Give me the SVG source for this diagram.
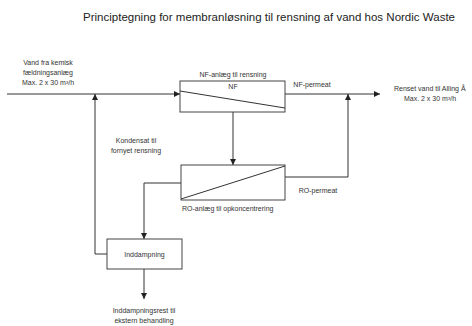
<svg xmlns="http://www.w3.org/2000/svg" width="472" height="326" viewBox="0 0 472 326">
<defs>
<marker id="ah" viewBox="0 0 10 10" refX="10" refY="5" markerWidth="6" markerHeight="6" markerUnits="userSpaceOnUse" orient="auto">
<path d="M0,0 L10,5 L0,10 z" fill="#222"/>
</marker>
<style>
.t{font-family:"Liberation Sans",Arial,sans-serif;font-size:7px;fill:#333;}
.ttl{font-family:"Liberation Sans",Arial,sans-serif;font-size:11.4px;fill:#222;}
.box{fill:#fff;stroke:#444;stroke-width:1;}
.ln{fill:none;stroke:#333;stroke-width:1;}
</style>
</defs>
<rect width="472" height="326" fill="#fff"/>
<text class="ttl" x="269" y="21" text-anchor="middle" textLength="372" lengthAdjust="spacingAndGlyphs">Principtegning for membranløsning til rensning af vand hos Nordic Waste</text>

<g id="connectors">
<line class="ln" x1="7" y1="94" x2="180" y2="94" marker-end="url(#ah)"/>
<polyline class="ln" points="107,254 95,254 95,94" marker-end="url(#ah)"/>
<line class="ln" x1="233" y1="112" x2="233" y2="165" marker-end="url(#ah)"/>
<line class="ln" x1="285" y1="94" x2="380" y2="94" marker-end="url(#ah)"/>
<polyline class="ln" points="285,177 348,177 348,94" marker-end="url(#ah)"/>
<polyline class="ln" points="181,183 144,183 144,239" marker-end="url(#ah)"/>
<line class="ln" x1="144" y1="269" x2="144" y2="299" marker-end="url(#ah)"/>
</g>

<g id="nf">
<rect class="box" x="180" y="81" width="105" height="31"/>
<line class="ln" x1="180" y1="91" x2="285" y2="108"/>
<text class="t" x="233" y="89" text-anchor="middle">NF</text>
<text class="t" x="233" y="77" text-anchor="middle">NF-anlæg til rensning</text>
</g>

<g id="ro">
<rect class="box" x="181" y="165" width="104" height="35"/>
<line class="ln" x1="181" y1="199" x2="285" y2="166"/>
<text class="t" x="182" y="211">RO-anlæg til opkoncentrering</text>
</g>

<g id="inddampning">
<rect class="box" x="107" y="239" width="75" height="30"/>
<text class="t" x="144.5" y="256.5" text-anchor="middle">Inddampning</text>
</g>

<g id="labels">
<text class="t" x="48" y="65" text-anchor="middle">Vand fra kemisk</text>
<text class="t" x="48" y="75" text-anchor="middle">fældningsanlæg</text>
<text class="t" x="48" y="85" text-anchor="middle">Max. 2 x 30 m³/h</text>
<text class="t" x="136" y="143" text-anchor="middle">Kondensat til</text>
<text class="t" x="136" y="153" text-anchor="middle">fornyet rensning</text>
<text class="t" x="312" y="87" text-anchor="middle">NF-permeat</text>
<text class="t" x="318" y="193" text-anchor="middle">RO-permeat</text>
<text class="t" x="394" y="91">Renset vand til Alling Å</text>
<text class="t" x="430" y="101" text-anchor="middle">Max. 2 x 30 m³/h</text>
<text class="t" x="144" y="313" text-anchor="middle">Inddampningsrest til</text>
<text class="t" x="144" y="323" text-anchor="middle">ekstern behandling</text>
</g>
</svg>
